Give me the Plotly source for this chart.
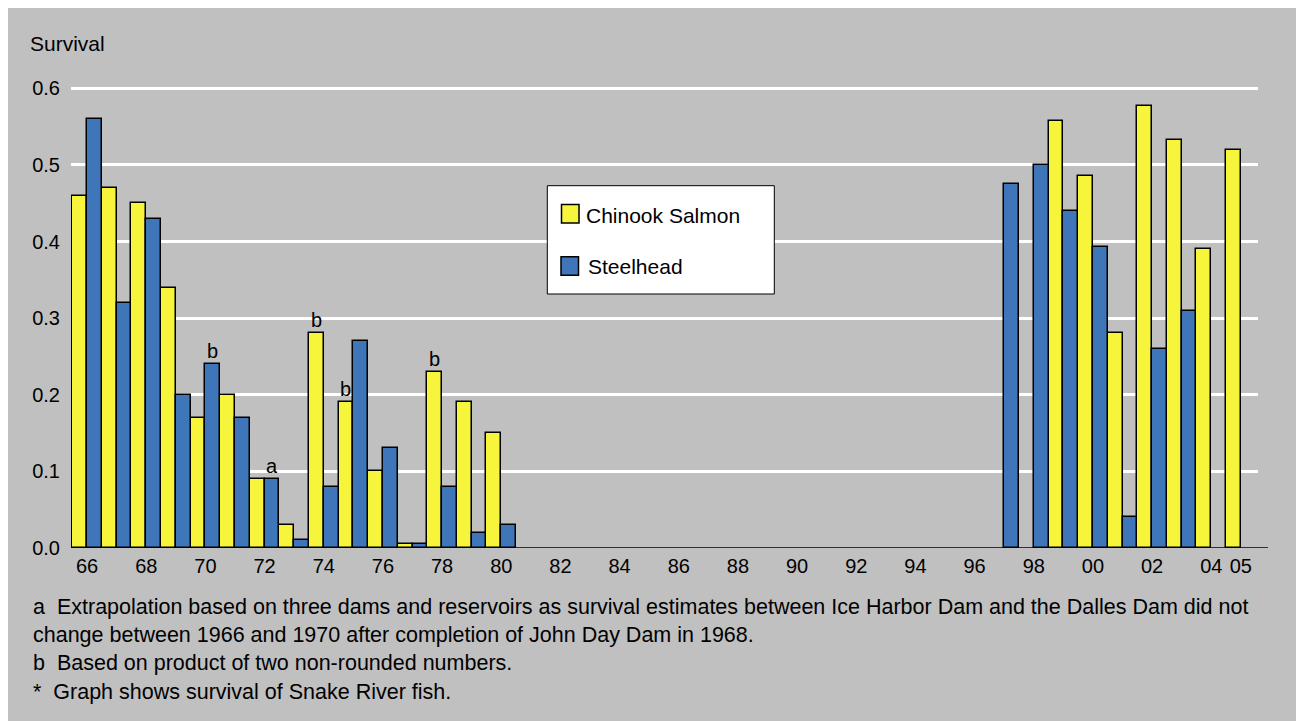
import plotly.graph_objects as go

# ---- data ----
chinook_years = [1966, 1967, 1968, 1969, 1970, 1971, 1972, 1973, 1974, 1975,
                 1976, 1977, 1978, 1979, 1980, 1999, 2000, 2001, 2002, 2003,
                 2004, 2005]
chinook = [0.46, 0.47, 0.45, 0.34, 0.17, 0.20, 0.09, 0.03, 0.28, 0.19,
           0.10, 0.005, 0.23, 0.19, 0.15, 0.557, 0.486, 0.28, 0.577, 0.532,
           0.39, 0.52]

steelhead_years = [1966, 1967, 1968, 1969, 1970, 1971, 1972, 1973, 1974, 1975,
                   1976, 1977, 1978, 1979, 1980, 1997, 1998, 1999, 2000, 2001,
                   2002, 2003]
steelhead = [0.56, 0.32, 0.43, 0.20, 0.24, 0.17, 0.09, 0.01, 0.08, 0.27,
             0.13, 0.005, 0.08, 0.02, 0.03, 0.475, 0.50, 0.44, 0.393, 0.04,
             0.26, 0.31]

tick_years = [1966, 1968, 1970, 1972, 1974, 1976, 1978, 1980, 1982, 1984,
              1986, 1988, 1990, 1992, 1994, 1996, 1998, 2000, 2002, 2004, 2005]
tick_labels = ["66", "68", "70", "72", "74", "76", "78", "80", "82", "84",
               "86", "88", "90", "92", "94", "96", "98", "00", "02", "04", "05"]

y_ticks = [0.0, 0.1, 0.2, 0.3, 0.4, 0.5, 0.6]
y_labels = ["0.0", "0.1", "0.2", "0.3", "0.4", "0.5", "0.6"]

series_names = ["Chinook Salmon", "Steelhead"]

# footnote marks: (series, year, letter)
marks = [("steelhead", 1970, "b"), ("steelhead", 1972, "a"),
         ("chinook", 1974, "b"), ("chinook", 1975, "b"),
         ("chinook", 1978, "b")]

footnotes = [
    "a  Extrapolation based on three dams and reservoirs as survival estimates between Ice Harbor Dam and the Dalles Dam did not"
    "<br>change between 1966 and 1970 after completion of John Day Dam in 1968.",
    "b  Based on product of two non-rounded numbers.",
    "*  Graph shows survival of Snake River fish.",
]

# ---- styling / layout ----
FONT = "Liberation Sans, Arial, Helvetica, sans-serif"
BG = "#c0c0c0"
YELLOW = "#F7F43C"
BLUE = "#3E76B9"

W, H = 1296, 713
ML, MR, MT, MB = 63, 46, 65, 173
PW, PH = W - ML - MR, H - MT - MB
OFF = 8  # page body offset


def px(xs):
    return (xs - OFF - ML) / PW


def py(ys):
    return (H - MB - (ys - OFF)) / PH


fig = go.Figure()
fig.add_trace(go.Bar(x=chinook_years, y=chinook, name=series_names[0],
                     marker=dict(color=YELLOW, line=dict(color="black", width=1.5))))
fig.add_trace(go.Bar(x=steelhead_years, y=steelhead, name=series_names[1],
                     marker=dict(color=BLUE, line=dict(color="black", width=1.5))))

annotations = []
lookup = {"chinook": dict(zip(chinook_years, chinook)),
          "steelhead": dict(zip(steelhead_years, steelhead))}
for series, yr, letter in marks:
    off = -0.25 if series == "chinook" else 0.25
    annotations.append(dict(x=yr + off, y=lookup[series][yr], xref="x", yref="y",
                            text=letter, showarrow=False, yanchor="bottom",
                            xanchor="center",
                            font=dict(size=20, color="black", family=FONT)))

annotations.append(dict(x=px(28), y=py(43), xref="paper", yref="paper",
                        text="Survival", showarrow=False, xanchor="left",
                        yanchor="middle", font=dict(size=21, color="black", family=FONT)))

foot_y = [621, 663, 692]
for txt, yy in zip(footnotes, foot_y):
    annotations.append(dict(x=px(31), y=py(yy), xref="paper", yref="paper",
                            text=txt, showarrow=False, xanchor="left", align="left",
                            yanchor="middle", font=dict(size=21.5, color="black", family=FONT)))

# legend (drawn as a boxed key)
legend_items = [(series_names[0], YELLOW, 561.5, 204.5, 584.0, 215.5),
                (series_names[1], BLUE, 561.0, 256.7, 586.0, 266.0)]
shapes = [dict(type="rect", xref="paper", yref="paper",
               x0=px(547.3), x1=px(774.3), y0=py(294), y1=py(185.7),
               fillcolor="white", line=dict(color="black", width=1), layer="above")]
for name, col, sx, sy, tx, ty in legend_items:
    shapes.append(dict(type="rect", xref="paper", yref="paper",
                       x0=px(sx), x1=px(sx + 17.5), y0=py(sy + 18.5), y1=py(sy),
                       fillcolor=col, line=dict(color="black", width=1.5), layer="above"))
    annotations.append(dict(x=px(tx), y=py(ty), xref="paper", yref="paper",
                            text=name, showarrow=False, xanchor="left",
                            yanchor="middle", font=dict(size=21, color="black", family=FONT)))

shapes.append(dict(type="line", xref="paper", yref="y", x0=0, x1=px(1268),
                   y0=0, y1=0, line=dict(color="black", width=1.5), layer="above"))

fig.update_layout(
    width=W, height=H,
    margin=dict(l=ML, r=MR, t=MT, b=MB, pad=0),
    paper_bgcolor=BG, plot_bgcolor=BG,
    barmode="group", bargap=0, bargroupgap=0,
    font=dict(family=FONT, color="black", size=20),
    showlegend=False,
    xaxis=dict(range=[1965.456, 2005.58], tickmode="array", tickvals=tick_years,
               ticktext=tick_labels, showgrid=False, zeroline=False,
               showline=False, ticks="", ticklabelstandoff=4,
               tickfont=dict(size=20, color="black", family=FONT)),
    yaxis=dict(range=[0, 0.62], tickmode="array", tickvals=y_ticks,
               ticktext=y_labels, showgrid=True, gridcolor="white",
               gridwidth=3, zeroline=False, showline=False, ticks="",
               ticklabelstandoff=10,
               tickfont=dict(size=20, color="black", family=FONT)),
    annotations=annotations,
    shapes=shapes,
)

fig.write_html("out.html")
